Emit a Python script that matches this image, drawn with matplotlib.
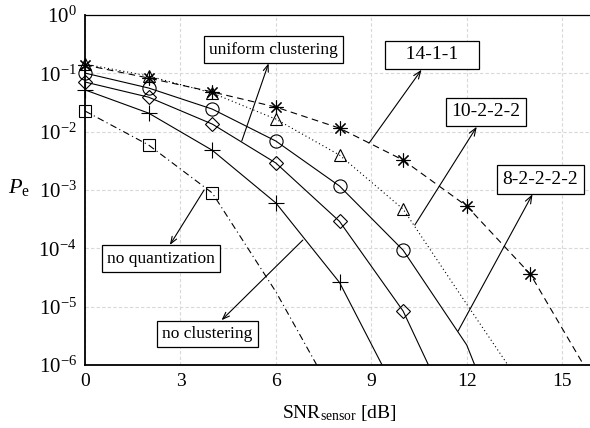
import matplotlib
matplotlib.use("Agg")
import matplotlib.pyplot as plt
import numpy as np

plt.rcParams["font.family"] = ["Liberation Serif", "DejaVu Serif"]
plt.rcParams["mathtext.fontset"] = "custom"
plt.rcParams["mathtext.rm"] = "Liberation Serif"
plt.rcParams["mathtext.it"] = "Liberation Serif:italic"

# SNR points of each curve (the last points fall below the axis)
snr_14 = [0, 2, 4, 6, 8, 10, 12, 14, 16]
pe_14 = [0.139, 0.083, 0.048, 0.0264, 0.0115, 3.26e-3, 5.3e-4, 3.6e-5, 5e-7]

snr_10 = [0, 2, 4, 6, 8, 10, 12, 14]
pe_10 = [0.144, 0.090, 0.046, 0.0164, 3.97e-3, 4.7e-4, 1.1e-5, 2.7e-7]

snr_8 = [0, 2, 4, 6, 8, 10, 12, 14]
pe_8 = [0.101, 0.056, 0.0244, 6.9e-3, 1.17e-3, 9.3e-5, 2.2e-6, 4e-9]

snr_uni = [0, 2, 4, 6, 8, 10, 12]
pe_uni = [0.071, 0.039, 0.0135, 2.9e-3, 2.9e-4, 8.4e-6, 4e-8]

snr_nocl = [0, 2, 4, 6, 8, 10]
pe_nocl = [0.052, 0.0208, 4.8e-3, 6.0e-4, 2.6e-5, 2e-7]

snr_noq = [0, 2, 4, 6, 8]
pe_noq = [0.0226, 5.9e-3, 8.9e-4, 1.8e-5, 2e-7]

# how many of the points carry a marker
n_marked = {"14": 8, "10": 6, "8": 6, "uni": 6, "nocl": 5, "noq": 3}

x_ticks = [0, 3, 6, 9, 12, 15]
y_ticks = [1e-6, 1e-5, 1e-4, 1e-3, 1e-2, 1e-1, 1e0]

fig = plt.figure(figsize=(5.9, 4.28), dpi=100)
ax = fig.add_axes([85 / 590, 63 / 428, 509 / 590, 350 / 428])

star = (8, 2, 0)
series = [
    (snr_14, pe_14, "14", (0, (6, 4)), star),
    (snr_10, pe_10, "10", (0, (1, 2.5)), "^"),
    (snr_8, pe_8, "8", "-", "o"),
    (snr_uni, pe_uni, "uni", "-", "D"),
    (snr_nocl, pe_nocl, "nocl", "-", "+"),
    (snr_noq, pe_noq, "noq", (0, (6, 3, 1, 3)), "s"),
]
sizes = {"o": 9.5, "D": 7, "^": 9, "s": 8.5, "+": 11, star: 10}

for x, y, key, ls, mk in series:
    ax.plot(x, y, color="black", linestyle=ls, linewidth=0.8)
    n = n_marked[key]
    ax.plot(x[:n], y[:n], linestyle="none", marker=mk, markersize=sizes[mk],
            markerfacecolor="none", markeredgecolor="black",
            markeredgewidth=0.8, clip_on=False, zorder=3)

ax.set_yscale("log")
ax.set_xlim(0, 16)
ax.set_ylim(1e-6, 1)
ax.set_xticks(x_ticks)
ax.set_yticks(y_ticks)
ax.minorticks_off()
ax.tick_params(length=0, labelsize=14, pad=6)
ax.tick_params(axis="y", labelsize=15)
ax.grid(True, color="#d8d8d8", linestyle=(0, (3, 2)), linewidth=0.8)
ax.set_axisbelow(True)
for s in ["left", "bottom"]:
    ax.spines[s].set_linewidth(1.3)
ax.spines["top"].set_linewidth(0.9)
ax.spines["right"].set_visible(False)

ax.set_xlabel(r"SNR$_{\rm sensor}$ [dB]", fontsize=14, labelpad=9)
ax.set_ylabel(r"$P_{\rm e}$", fontsize=16, rotation=0)
ax.yaxis.set_label_coords(-0.13, 0.477)

box = dict(boxstyle="square,pad=0.3", facecolor="white", edgecolor="black",
           linewidth=0.9)
arrow = dict(arrowstyle="<-,head_length=0.4,head_width=0.15", color="black",
             linewidth=0.8, shrinkA=0, shrinkB=0)


def label(text, box_xy, tail_xy, size):
    ax.annotate(text, xy=tail_xy, xytext=box_xy, xycoords="axes fraction",
                textcoords="axes fraction", ha="center", va="center",
                fontsize=size, bbox=box, arrowprops=arrow)


label("uniform clustering", (0.370, 0.901), (0.308, 0.640), 12.5)
label("   14-1-1   ", (0.682, 0.886), (0.558, 0.634), 14)
label("10-2-2-2", (0.788, 0.723), (0.648, 0.400), 14)
label("8-2-2-2-2", (0.895, 0.530), (0.733, 0.097), 14)
label("no quantization", (0.150, 0.304), (0.234, 0.500), 12.5)
label("no clustering", (0.241, 0.089), (0.428, 0.357), 12.5)

fig.savefig("out.png", dpi=100)
